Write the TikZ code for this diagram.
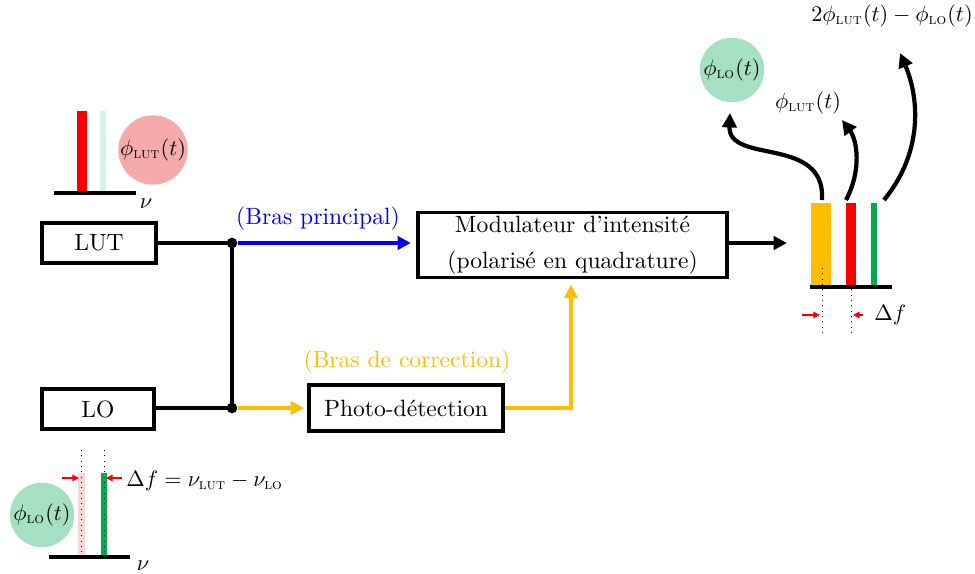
\documentclass[tikz,border=0pt]{standalone}
\usepackage{amsmath}
\usetikzlibrary{arrows.meta}
\definecolor{myyellow}{RGB}{255,190,0}
\definecolor{myred}{RGB}{250,0,0}
\definecolor{mygreen}{RGB}{0,170,80}
\definecolor{myblue}{RGB}{0,0,240}
\definecolor{pinkc}{RGB}{246,170,170}
\definecolor{greenc}{RGB}{165,224,195}
\definecolor{lightcyan}{RGB}{215,242,235}
\definecolor{lightpink}{RGB}{250,215,215}
\begin{document}
\begin{tikzpicture}[x=0.45pt,y=-0.45pt,
  every node/.style={font=\fontsize{10.6}{13}\selectfont},
  mathlbl/.style={font=\fontsize{9.8}{12}\selectfont},
  box/.style={draw, line width=1.5pt, inner sep=0pt, align=center},
  wire/.style={line width=1.5pt},
  arr/.style={line width=1.5pt, -{Triangle[length=6pt,width=6pt]}},
  bigarr/.style={line width=1.9pt, -{Triangle[length=6.5pt,width=6.5pt]}},
  dot/.style={circle, fill=black, inner sep=0pt, minimum size=4.8pt},
  axis/.style={line width=1.8pt},
  blob/.style={circle, inner sep=0pt, minimum size=29pt, mathlbl},
  redarr/.style={red, line width=0.6pt, -{Triangle[length=3pt,width=3pt]}},
  dotline/.style={line width=0.4pt, dotted}]
\useasboundingbox (0,0) rectangle (975,574);

% ---------- boxes ----------
\node[box, minimum width=51.3pt, minimum height=18pt] (lut) at (99,243) {LUT};
\node[box, minimum width=50.4pt, minimum height=18pt] (lo) at (98,409) {LO};
\node[box, minimum width=139pt, minimum height=29.3pt] (mod) at (572.5,245)
  {Modulateur d'intensit\'e\\[3pt](polaris\'e en quadrature)};
\node[box, minimum width=87.3pt, minimum height=20.7pt] (pd) at (406,408) {Photo-d\'etection};

% ---------- junctions ----------
\node[dot] (j1) at (232,243) {};
\node[dot] (j2) at (232,408) {};
\draw[wire] (j1 -| lut.east) -- (j1.center);
\draw[wire] (j2 -| lo.east) -- (j2.center);
\draw[wire] (j1.center) -- (j2.center);

\draw[arr, myblue] (j1) -- ([xshift=-2.5pt]mod.west |- j1) coordinate (bp);
\node[myblue] (lbp) at (318,219) {(Bras principal)};

\draw[arr, myyellow] (j2) -- ([xshift=-1.5pt]pd.west |- j2);
\node[myyellow] (lbc) at (407,362) {(Bras de correction)};

\coordinate (corner) at (571,408);
\draw[arr, myyellow] (pd.east |- corner) -- (corner) -- ([yshift=-2.5pt]corner |- mod.south);

\coordinate (outend) at (787,243);
\draw[arr] (mod.east |- outend) -- (outend);

% ---------- top-left spectrum (LUT) ----------
\fill[lightcyan] (100,111) rectangle (106,193);
\fill[myred] (77,111) rectangle (87,193);
\draw[axis] (54,193) -- (136,193);
\node[mathlbl] (nu1) at (146,204) {$\nu$};
\node[blob, fill=pinkc] (philut) at (153,150) {$\phi_{\textsc{lut}}(t)$};

% ---------- bottom-left spectrum (LO) ----------
\fill[lightpink] (78,473) rectangle (85,557);
\fill[mygreen] (101,473) rectangle (107,557);
\draw[dotline] (81,450) -- (81,557);
\draw[dotline] (104,450) -- (104,557);
\draw[axis] (49,557) -- (130,557);
\node[mathlbl] (nu2) at (143,566) {$\nu$};
\node[blob, fill=greenc] (philo) at (42,515) {$\phi_{\textsc{lo}}(t)$};
\coordinate (la) at (62,478);
\coordinate (lb) at (122,478);
\draw[redarr] (la) -- (79,478);
\draw[redarr] (lb) -- (106,478);
\node[mathlbl, anchor=west, inner sep=0pt] (df1) at (126,481) {$\Delta f = \nu_{\textsc{lut}} - \nu_{\textsc{lo}}$};

% ---------- right spectrum ----------
\fill[myyellow] (811,203) rectangle (831,287);
\fill[myred] (846,203) rectangle (856,287);
\fill[mygreen] (871,203) rectangle (877,287);
\draw[dotline] (822,268) -- (822,333);
\draw[dotline] (851,268) -- (851,333);
\draw[axis] (810,287) -- (892,287);
\coordinate (ra) at (802,315);
\coordinate (rb) at (863,315);
\draw[redarr] (ra) -- (820,315);
\draw[redarr] (rb) -- (853,315);
\node[mathlbl, anchor=west, inner sep=0pt] (df2) at (874,315) {$\Delta f$};

% ---------- output phases ----------
\node[blob, fill=greenc] (philo2) at (732,70) {$\phi_{\textsc{lo}}(t)$};
\node[mathlbl] (philut2) at (808,103) {$\phi_{\textsc{lut}}(t)$};
\node[mathlbl] (phimix) at (892,16) {$2\phi_{\textsc{lut}}(t) - \phi_{\textsc{lo}}(t)$};
\coordinate (s1) at (822,200);
\coordinate (s2) at (846,200);
\coordinate (s3) at (884,200);
\draw[bigarr] (s1) .. controls (826,135) and (728,165) .. (730,113);
\draw[bigarr] (s2) .. controls (862,170) and (857,140) .. (842,120);
\draw[bigarr] (s3) .. controls (925,150) and (918,95) .. (900,53);
\end{tikzpicture}
\end{document}
